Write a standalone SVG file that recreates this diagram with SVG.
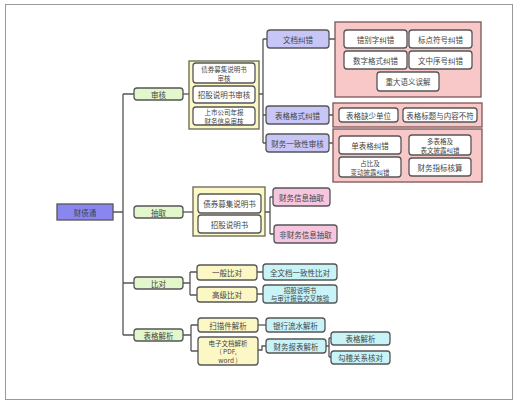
<svg xmlns="http://www.w3.org/2000/svg" width="521" height="407" viewBox="0 0 521 407">
<style>
text{font-family:"Noto Sans CJK SC","Noto Sans",sans-serif;font-size:7.5px;fill:#444;text-anchor:middle;dominant-baseline:central}
text.s{font-size:6.5px}
.n{stroke:#555;stroke-width:1.3}
.root{fill:#8a86f0}
.g{fill:#e2f7cc}
.y{fill:#fbf8c6}
.w{fill:#fff}
.p{fill:#c8c6f6}
.pk{fill:#f8c8c8;stroke:#7a5555;stroke-width:1.3}
.m{fill:#f6c6e0}
.c{fill:#c8f4f8}
.cont{fill:#fbf8c6;stroke:#666650;stroke-width:1.3}
#edges path{fill:none;stroke:#555;stroke-width:1.3}
</style>
<rect x="5.5" y="4.5" width="507" height="395" fill="#fff" stroke="#999" stroke-width="1"/>
<g id="edges">
<path d="M112,212H123M123,94V335M123,94H134M123,283H134M123,335H134"/>
<path d="M183,94H189"/>
<path d="M259,94H263M263,39V143M263,39H267M263,115H266M263,143H266"/>
<path d="M329,39H335M329,115H333M329,143H333"/>
<path d="M183,212H193"/>
<path d="M265,212H270M270,197V234M270,197H273M270,234H274"/>
<path d="M183,283H190M190,272V295M190,272H197M190,295H197"/>
<path d="M257,272H263M257,294H263"/>
<path d="M183,335H191M191,325V351M191,325H198M191,351H198"/>
<path d="M258,325H266"/>
<path d="M258,350H262V346H266"/>
<path d="M326,346H329M329,338V357M329,338H331M329,357H331"/>
</g>
<g id="root"><rect class="n root" x="57" y="204" width="56" height="16"/><text x="85" y="212">财债通</text></g>
<g id="shenhe"><rect class="n g" x="134" y="88" width="49" height="12" rx="3"/><text x="158.5" y="94">审核</text></g>
<g id="chouqu"><rect class="n g" x="134" y="206" width="49" height="12" rx="3"/><text x="158.5" y="212">抽取</text></g>
<g id="bidui"><rect class="n g" x="134" y="277" width="49" height="12" rx="3"/><text x="158.5" y="283">比对</text></g>
<g id="biaogejiexi"><rect class="n g" x="134" y="329" width="49" height="12" rx="3"/><text x="158.5" y="335">表格解析</text></g>
<g id="shenhe-group">
<rect class="cont" x="189" y="61" width="70" height="68"/>
<rect class="n w" x="193" y="63" width="62" height="20" rx="3"/><text class="s" x="224" y="68.5">债券募集说明书</text><text class="s" x="224" y="77.5">审核</text>
<rect class="n w" x="193" y="86" width="62" height="17" rx="3"/><text x="224" y="94.5">招股说明书审核</text>
<rect class="n w" x="193" y="107" width="62" height="18" rx="3"/><text class="s" x="224" y="111.5">上市公司年报</text><text class="s" x="224" y="120.5">财务信息审核</text>
</g>
<g id="wendangjiucuo"><rect class="n p" x="267" y="30" width="62" height="18" rx="3"/><text x="298" y="39">文档纠错</text></g>
<g id="biaogegeshi"><rect class="n p" x="266" y="106" width="63" height="18" rx="3"/><text x="297.5" y="115">表格格式纠错</text></g>
<g id="caiwuyizhi"><rect class="n p" x="266" y="134" width="63" height="18" rx="3"/><text x="297.5" y="143">财务一致性审核</text></g>
<g id="wendang-group">
<rect class="pk" x="335" y="22" width="146" height="75"/>
<rect class="n w" x="344" y="30" width="63" height="18" rx="3"/><text x="375.5" y="39">错别字纠错</text>
<rect class="n w" x="409" y="30" width="63" height="18" rx="3"/><text x="440.5" y="39">标点符号纠错</text>
<rect class="n w" x="344" y="51" width="63" height="18" rx="3"/><text x="375.5" y="60">数字格式纠错</text>
<rect class="n w" x="409" y="51" width="63" height="18" rx="3"/><text x="440.5" y="60">文中序号纠错</text>
<rect class="n w" x="377" y="72" width="62" height="19" rx="3"/><text x="408" y="81.5">重大语义误解</text>
</g>
<g id="biaoge-group">
<rect class="pk" x="333" y="103" width="149" height="24"/>
<rect class="n w" x="339" y="108" width="59" height="14" rx="3"/><text x="368.5" y="115">表格缺少单位</text>
<rect class="n w" x="403" y="108" width="74" height="14" rx="3"/><text x="440" y="115">表格标题与内容不符</text>
</g>
<g id="caiwu-group">
<rect class="pk" x="333" y="129" width="149" height="53"/>
<rect class="n w" x="339" y="136" width="62" height="18" rx="3"/><text x="370" y="145">单表格纠错</text>
<rect class="n w" x="409" y="135" width="62" height="20" rx="3"/><text class="s" x="440" y="140.5">多表格及</text><text class="s" x="440" y="149.5">表文披露纠错</text>
<rect class="n w" x="339" y="157" width="62" height="20" rx="3"/><text class="s" x="370" y="162.5">占比及</text><text class="s" x="370" y="171.5">变动披露纠错</text>
<rect class="n w" x="409" y="158" width="62" height="18" rx="3"/><text x="440" y="167">财务指标核算</text>
</g>
<g id="chouqu-group">
<rect class="cont" x="193" y="187" width="72" height="49"/>
<rect class="n w" x="198" y="194" width="63" height="19" rx="3"/><text x="229.5" y="203.5">债券募集说明书</text>
<rect class="n w" x="198" y="215" width="63" height="18" rx="3"/><text x="229.5" y="224">招股说明书</text>
</g>
<g id="caiwuxinxi"><rect class="n m" x="273" y="188" width="57" height="18" rx="3"/><text x="301.5" y="197">财务信息抽取</text></g>
<g id="feicaiwu"><rect class="n m" x="274" y="225" width="63" height="18" rx="3"/><text x="305.5" y="234">非财务信息抽取</text></g>
<g id="yiban"><rect class="n y" x="197" y="265" width="60" height="15" rx="3"/><text x="227" y="272.5">一般比对</text></g>
<g id="gaoji"><rect class="n y" x="197" y="287" width="60" height="15" rx="3"/><text x="227" y="294.5">高级比对</text></g>
<g id="quanwendang"><rect class="n c" x="263" y="264" width="74" height="16" rx="3"/><text x="300" y="272">全文档一致性比对</text></g>
<g id="jiaocha"><rect class="n c" x="263" y="285" width="74" height="18" rx="3"/><text class="s" x="300" y="289.5">招股说明书</text><text class="s" x="300" y="298">与审计报告交叉核验</text></g>
<g id="saomiao"><rect class="n y" x="198" y="318" width="60" height="14" rx="3"/><text x="228" y="325">扫描件解析</text></g>
<g id="dianzi"><rect class="n y" x="198" y="337" width="60" height="28" rx="3"/><text class="s" x="228" y="342.5">电子文档解析</text><text class="s" x="228" y="351">( PDF,</text><text class="s" x="228" y="359.5">word )</text></g>
<g id="yinhang"><rect class="n c" x="266" y="318" width="59" height="14" rx="3"/><text x="295.5" y="325">银行流水解析</text></g>
<g id="caiwubaobiao"><rect class="n c" x="266" y="339" width="60" height="14" rx="3"/><text x="296" y="346">财务报表解析</text></g>
<g id="biaogejiexi2"><rect class="n c" x="331" y="332" width="59" height="13" rx="3"/><text x="360.5" y="338.5">表格解析</text></g>
<g id="gouji"><rect class="n c" x="331" y="351" width="59" height="13" rx="3"/><text x="360.5" y="357.5">勾稽关系核对</text></g>
</svg>
